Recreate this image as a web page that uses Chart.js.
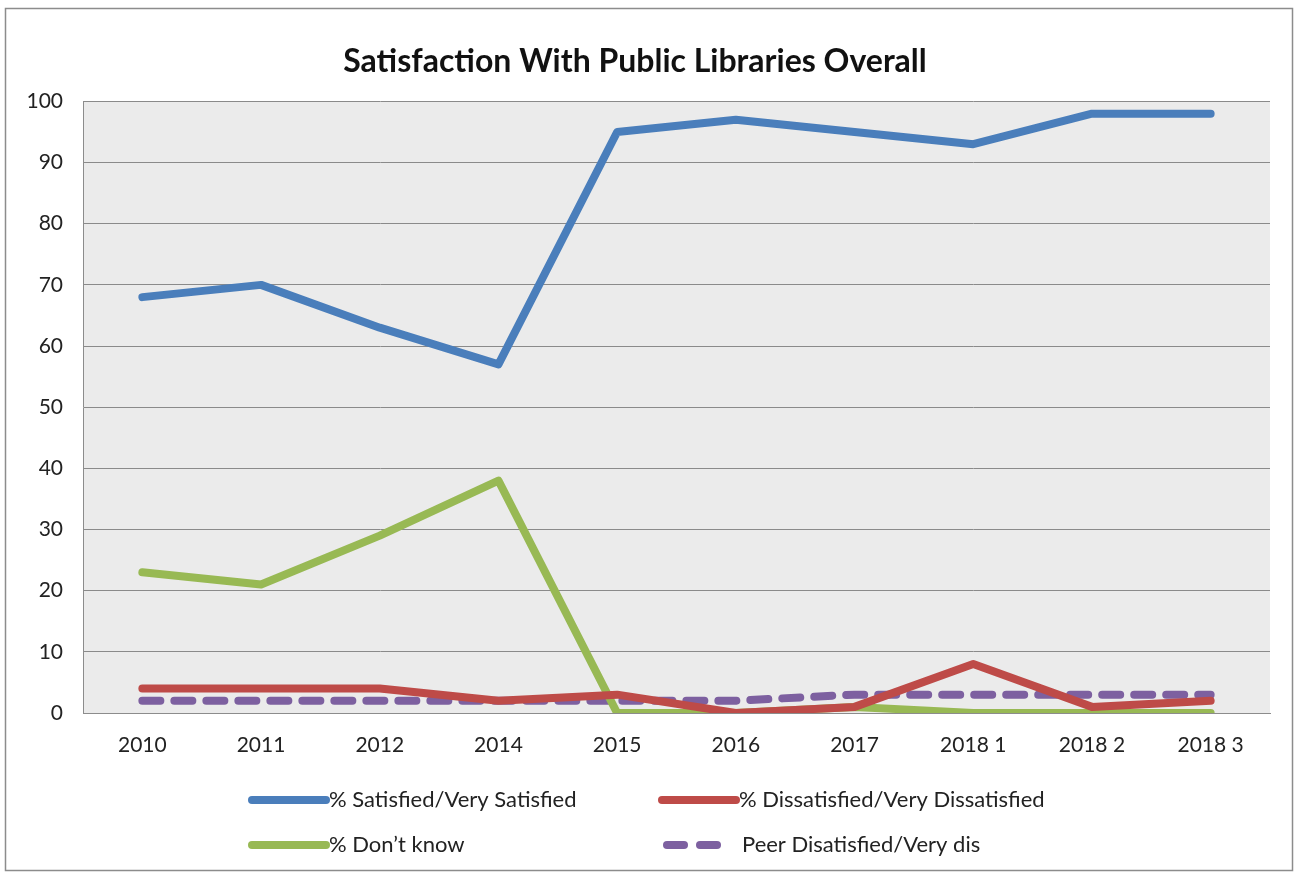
<!DOCTYPE html>
<html>
<head>
<meta charset="utf-8">
<script src="https://cdn.jsdelivr.net/npm/chart.js@4"></script>
<style>
  html, body { margin: 0; padding: 0; background: #fff; }
  #wrap { width: 1298px; height: 876px; }
</style>
</head>
<body>
<div id="wrap"><canvas id="satisfactionChart" width="1298" height="876"></canvas></div>
<script>
const categories = ["2010", "2011", "2012", "2014", "2015", "2016", "2017", "2018 1", "2018 2", "2018 3"];
const satisfied = [68, 70, 63, 57, 95, 97, 95, 93, 98, 98];
const dissatisfied = [4, 4, 4, 2, 3, 0, 1, 8, 1, 2];
const dontKnow = [23, 21, 29, 38, 0, 0, 1, 0, 0, 0];
const peerDissatisfied = [2, 2, 2, 2, 2, 2, 3, 3, 3, 3];
const yTicks = [0, 10, 20, 30, 40, 50, 60, 70, 80, 90, 100];

const FONT = "Lato, 'Liberation Sans', sans-serif";

// frame + grey plot background
const backgroundPlugin = {
  id: "bg",
  beforeDraw(chart) {
    const { ctx, chartArea: a } = chart;
    ctx.save();
    ctx.fillStyle = "#fff";
    ctx.fillRect(0, 0, chart.width, chart.height);
    ctx.strokeStyle = "#8c8c8c";
    ctx.lineWidth = 1.5;
    ctx.strokeRect(5.5, 8.5, 1287, 862);
    ctx.fillStyle = "#ebebeb";
    ctx.fillRect(a.left, a.top, a.right - a.left, a.bottom - a.top);
    ctx.restore();
  },
};

// two-column legend like the original
const legendPlugin = {
  id: "twoColLegend",
  afterDraw(chart) {
    const { ctx } = chart;
    const spots = [
      { x: 252, y: 800 },
      { x: 662, y: 800 },
      { x: 252, y: 845 },
      { x: 662, y: 845 },
    ];
    ctx.save();
    ctx.font = "22px " + FONT;
    ctx.textBaseline = "middle";
    chart.data.datasets.forEach((ds, i) => {
      const p = spots[i];
      ctx.strokeStyle = ds.borderColor;
      ctx.lineWidth = 8;
      ctx.lineCap = "round";
      if (ds.borderDash) {
        [[p.x + 5, p.x + 22], [p.x + 38, p.x + 55]].forEach(([a, b]) => {
          ctx.beginPath();
          ctx.moveTo(a, p.y);
          ctx.lineTo(b, p.y);
          ctx.stroke();
        });
        ctx.fillStyle = "#222";
        ctx.fillText(ds.label, p.x + 80, p.y);
      } else {
        ctx.beginPath();
        ctx.moveTo(p.x, p.y);
        ctx.lineTo(p.x + 74, p.y);
        ctx.stroke();
        ctx.fillStyle = "#222";
        ctx.fillText(ds.label, p.x + 77, p.y);
      }
    });
    ctx.restore();
  },
};

const lineSet = (label, data, color, extra = {}) => ({
  label,
  data,
  borderColor: color,
  backgroundColor: color,
  borderWidth: 8,
  pointRadius: 0,
  tension: 0,
  borderCapStyle: "round",
  borderJoinStyle: "round",
  ...extra,
});

const ctx = document.getElementById("satisfactionChart").getContext("2d");
const chart = new Chart(ctx, {
  type: "line",
  data: {
    labels: categories,
    datasets: [
      lineSet("% Satisfied/Very Satisfied", satisfied, "#4a7ebb"),
      lineSet("% Dissatisfied/Very Dissatisfied", dissatisfied, "#be4b48"),
      lineSet("% Don\u2019t know", dontKnow, "#98b954"),
      lineSet("Peer Disatisfied/Very dis", peerDissatisfied, "#7d60a0", { borderDash: [18, 14] }),
    ],
  },
  options: {
    responsive: false,
    animation: false,
    layout: { padding: { left: 0, right: 28, top: 0, bottom: 120 } },
    plugins: {
      legend: { display: false },
      tooltip: { enabled: false },
      title: {
        display: true,
        text: "Satisfaction With Public Libraries Overall",
        color: "#111",
        font: { family: FONT, size: 32, weight: "bold" },
        padding: { top: 42, bottom: 21 },
      },
    },
    scales: {
      x: {
        offset: true,
        grid: { display: false, drawTicks: false },
        border: { color: "#8c8c8c", width: 1 },
        ticks: { color: "#222", font: { family: FONT, size: 21 }, padding: 20 },
        afterFit: (s) => { s.height = 43; },
      },
      y: {
        min: 0,
        max: 100,
        afterBuildTicks: (s) => { s.ticks = yTicks.map((v) => ({ value: v })); },
        grid: { color: "#8a8a8a", lineWidth: 1, drawTicks: false },
        border: { color: "#8c8c8c", width: 1 },
        ticks: { color: "#222", font: { family: FONT, size: 21 }, padding: 20 },
        afterFit: (s) => { s.width = 83; },
      },
    },
  },
  plugins: [backgroundPlugin, legendPlugin],
});
</script>
</body>
</html>
